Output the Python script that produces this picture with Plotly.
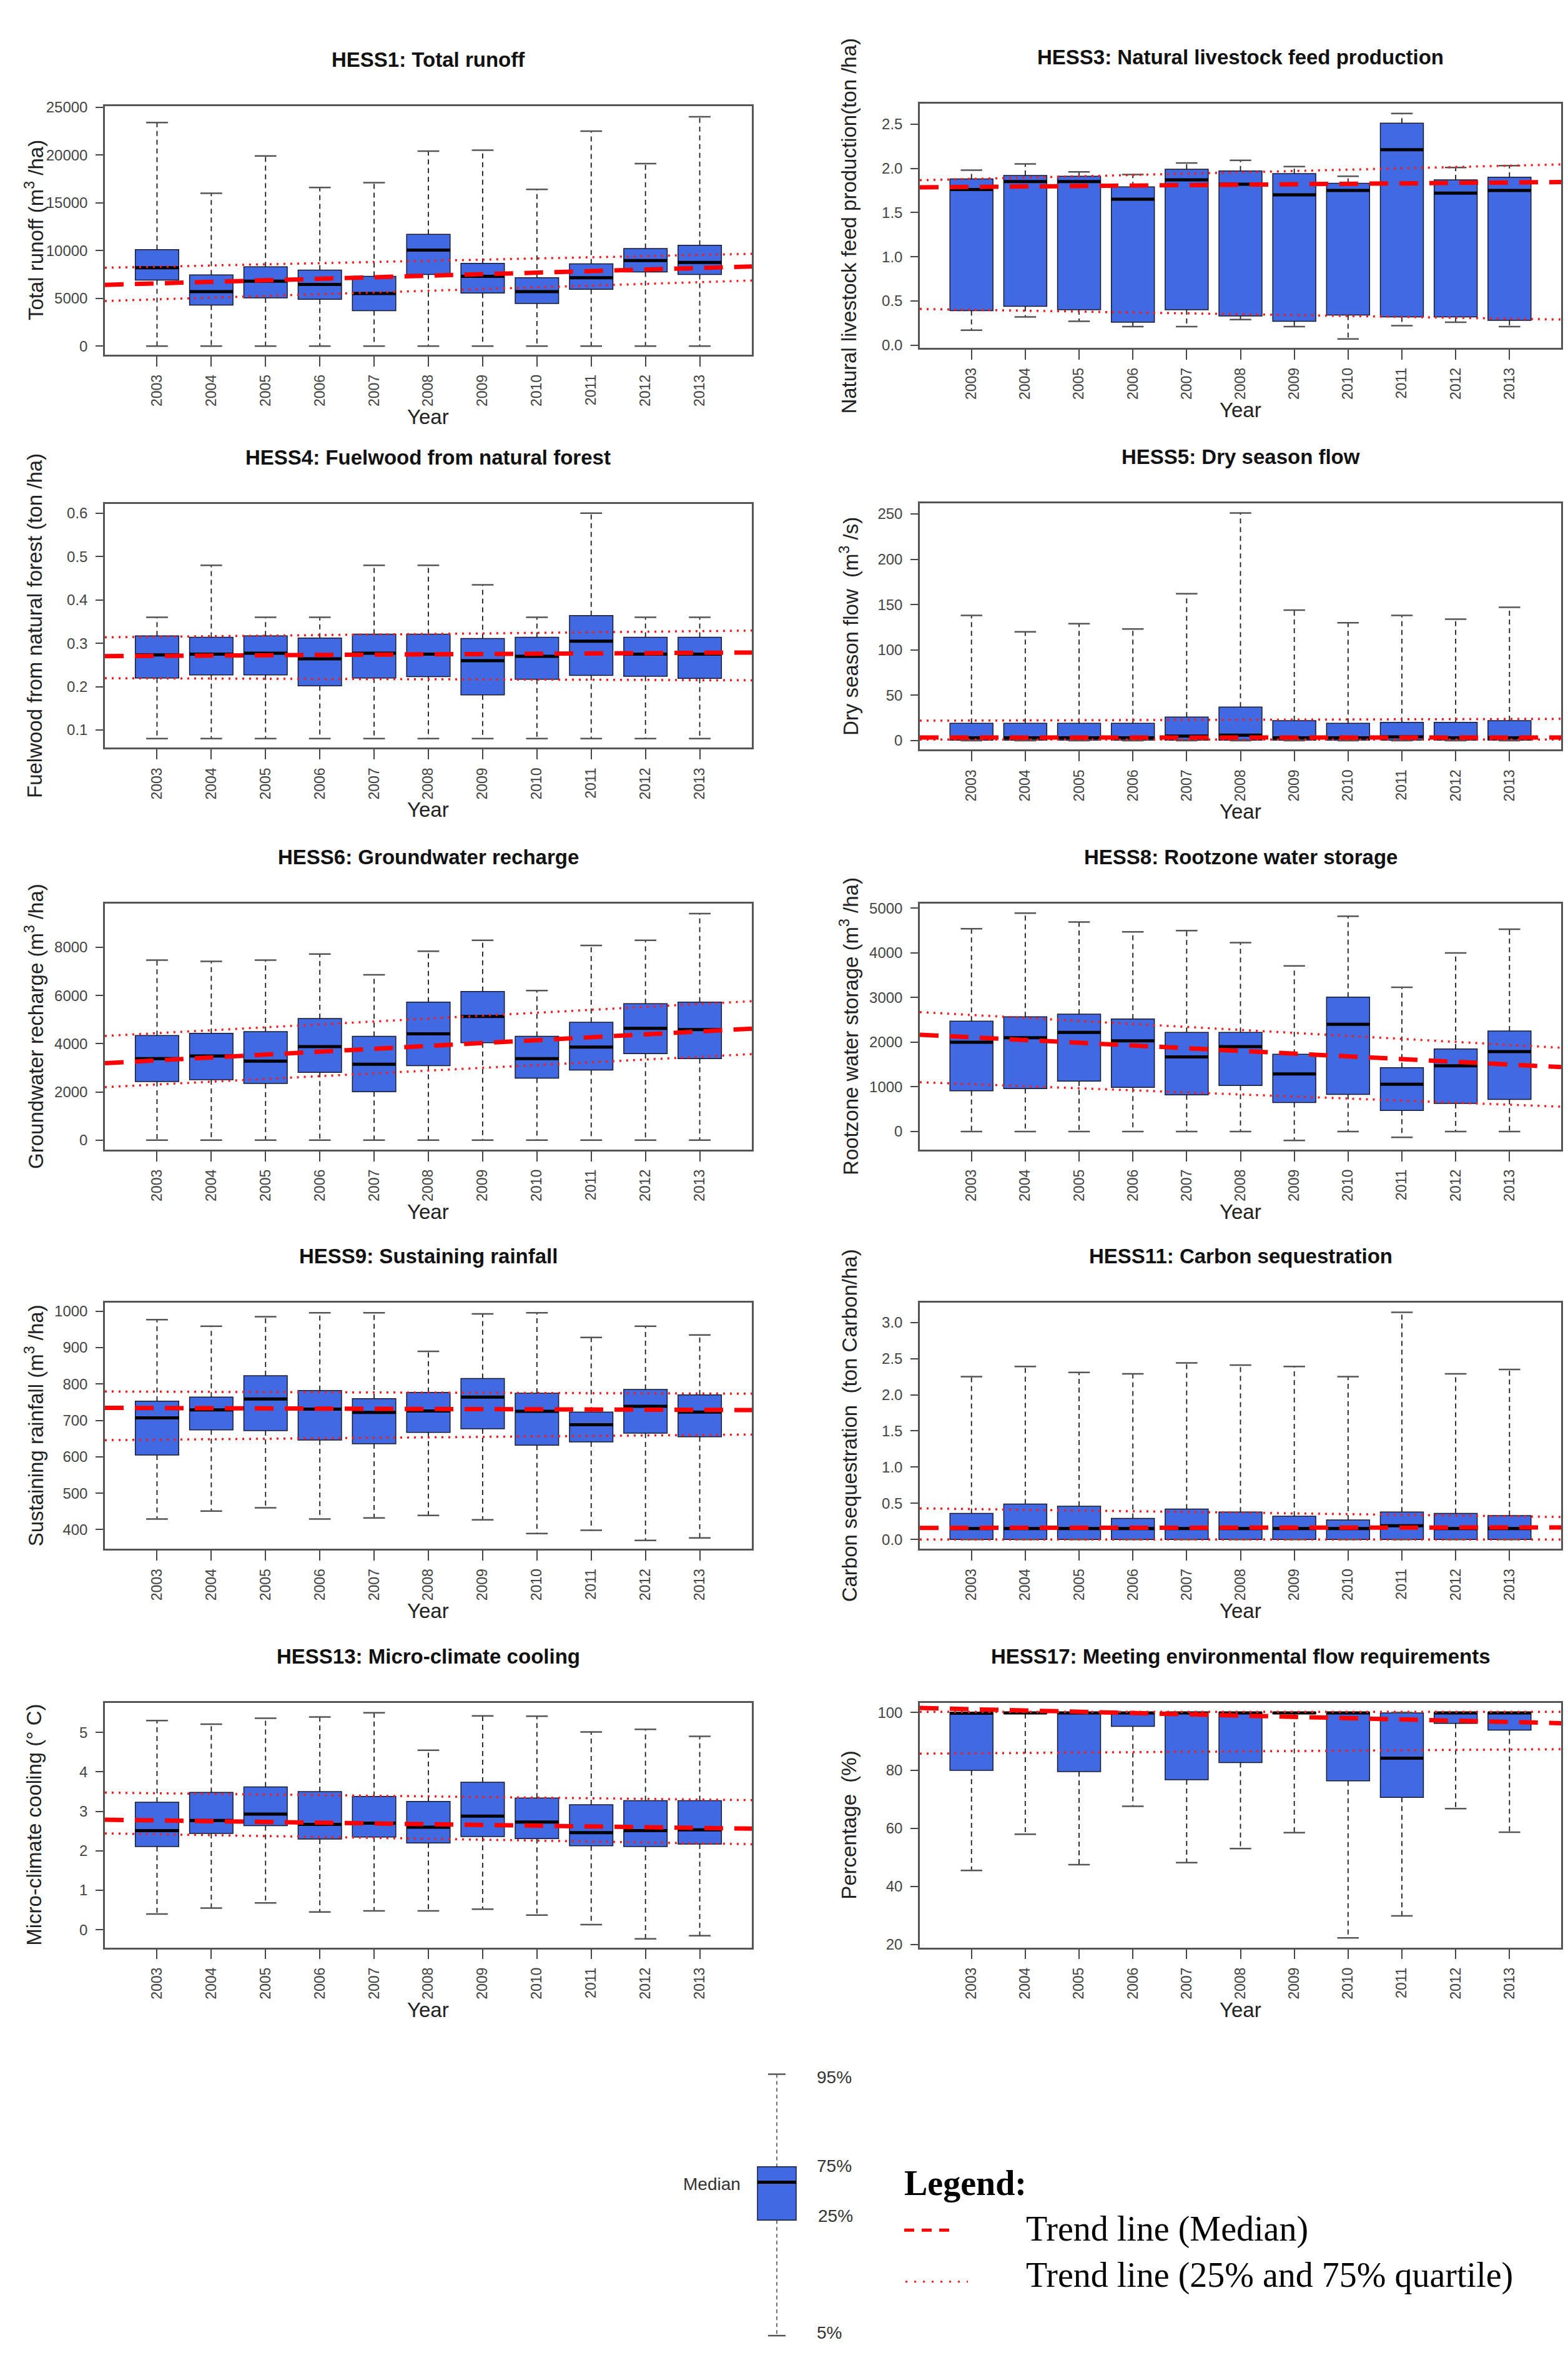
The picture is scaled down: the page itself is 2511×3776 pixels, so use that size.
import plotly.graph_objects as go

W, H = 2511, 3776
years = [2003, 2004, 2005, 2006, 2007, 2008, 2009, 2010, 2011, 2012, 2013]
year_labels = [str(y) for y in years]

# ---------------- data (5%, 25%, median, 75%, 95%) ----------------
HESS1_p95 = [23400, 16000, 19900, 16600, 17100, 20400, 20500, 16400, 22500, 19100, 24000]
HESS1_q3 = [10100, 7450, 8300, 7950, 7300, 11700, 8650, 7150, 8600, 10200, 10550]
HESS1_med = [8200, 5700, 6800, 6450, 5500, 10050, 7300, 5700, 7150, 8950, 8750]
HESS1_q1 = [6900, 4300, 5050, 4900, 3700, 7500, 5550, 4450, 5950, 7750, 7500]
HESS1_p5 = [0, 0, 0, 0, 0, 0, 0, 0, 0, 0, 0]
HESS1_trend_med = [6560, 8170]
HESS1_trend_q3 = [8310, 9540]
HESS1_trend_q1 = [4890, 6690]

HESS3_p95 = [1.98, 2.05, 1.96, 1.93, 2.06, 2.09, 2.02, 1.91, 2.62, 2.01, 2.03]
HESS3_q3 = [1.88, 1.92, 1.91, 1.79, 1.99, 1.97, 1.94, 1.83, 2.51, 1.87, 1.90]
HESS3_med = [1.76, 1.85, 1.85, 1.65, 1.87, 1.82, 1.70, 1.75, 2.21, 1.72, 1.75]
HESS3_q1 = [0.39, 0.44, 0.40, 0.26, 0.40, 0.33, 0.27, 0.34, 0.32, 0.32, 0.28]
HESS3_p5 = [0.17, 0.32, 0.27, 0.21, 0.21, 0.29, 0.21, 0.07, 0.22, 0.26, 0.21]
HESS3_trend_med = [1.79, 1.84]
HESS3_trend_q3 = [1.88, 2.03]
HESS3_trend_q1 = [0.40, 0.30]

HESS4_p95 = [0.36, 0.48, 0.36, 0.36, 0.48, 0.48, 0.435, 0.36, 0.60, 0.36, 0.36]
HESS4_q3 = [0.317, 0.314, 0.317, 0.312, 0.321, 0.321, 0.311, 0.314, 0.364, 0.314, 0.314]
HESS4_med = [0.273, 0.275, 0.277, 0.264, 0.277, 0.275, 0.260, 0.270, 0.305, 0.275, 0.275]
HESS4_q1 = [0.220, 0.227, 0.227, 0.202, 0.220, 0.223, 0.181, 0.217, 0.226, 0.224, 0.219]
HESS4_p5 = [0.08, 0.08, 0.08, 0.08, 0.08, 0.08, 0.08, 0.08, 0.08, 0.08, 0.08]
HESS4_trend_med = [0.271, 0.278]
HESS4_trend_q3 = [0.315, 0.328]
HESS4_trend_q1 = [0.219, 0.215]

HESS5_p95 = [138, 120, 129, 123, 162, 251, 144, 130, 138, 134, 147]
HESS5_q3 = [19, 19, 19, 19, 26, 37, 22, 19, 20, 20, 22]
HESS5_med = [3, 3, 3, 3, 5, 6, 3, 3, 4, 3, 3]
HESS5_q1 = [0.5, 0.5, 0.5, 0.5, 0.5, 0.5, 0.5, 0.5, 0.5, 0.5, 0.5]
HESS5_p5 = [0, 0, 0, 0, 0, 0, 0, 0, 0, 0, 0]
HESS5_trend_med = [3.4, 3.4]
HESS5_trend_q3 = [22.1, 23.8]
HESS5_trend_q1 = [1.2, 1.2]

HESS6_p95 = [7470, 7420, 7470, 7720, 6860, 7840, 8290, 6210, 8080, 8290, 9400]
HESS6_q3 = [4340, 4430, 4500, 5050, 4310, 5730, 6170, 4310, 4890, 5660, 5730]
HESS6_med = [3380, 3490, 3280, 3880, 3150, 4410, 5130, 3380, 3860, 4640, 4590]
HESS6_q1 = [2430, 2510, 2350, 2810, 2010, 3090, 4040, 2570, 2910, 3590, 3380]
HESS6_p5 = [0, 0, 0, 0, 0, 0, 0, 0, 0, 0, 0]
HESS6_trend_med = [3310, 4510]
HESS6_trend_q3 = [4440, 5650]
HESS6_trend_q1 = [2310, 3460]

HESS8_p95 = [4540, 4890, 4690, 4470, 4500, 4230, 3710, 4820, 3230, 4000, 4530]
HESS8_q3 = [2470, 2570, 2630, 2520, 2220, 2220, 1730, 3010, 1430, 1850, 2250]
HESS8_med = [2000, 2100, 2220, 2030, 1670, 1900, 1290, 2400, 1060, 1470, 1790]
HESS8_q1 = [910, 960, 1130, 990, 820, 1030, 650, 830, 470, 630, 720]
HESS8_p5 = [0, 0, 0, 0, 0, 0, -200, 0, -130, 0, 0]
HESS8_trend_med = [2110, 1500]
HESS8_trend_q3 = [2610, 1940]
HESS8_trend_q1 = [1060, 600]

HESS9_p95 = [977, 959, 985, 996, 996, 890, 993, 996, 928, 959, 935]
HESS9_q3 = [753, 764, 823, 782, 760, 777, 815, 775, 723, 785, 770]
HESS9_med = [707, 729, 759, 731, 722, 726, 764, 725, 688, 739, 723]
HESS9_q1 = [605, 674, 672, 646, 636, 667, 677, 632, 641, 665, 655]
HESS9_p5 = [429, 451, 460, 429, 432, 439, 427, 389, 398, 370, 377]
HESS9_trend_med = [734, 729]
HESS9_trend_q3 = [779, 774]
HESS9_trend_q1 = [647, 660]

HESS11_p95 = [2.25, 2.39, 2.31, 2.29, 2.44, 2.41, 2.39, 2.25, 3.14, 2.29, 2.35]
HESS11_q3 = [0.36, 0.49, 0.46, 0.29, 0.42, 0.38, 0.32, 0.27, 0.38, 0.36, 0.33]
HESS11_med = [0.15, 0.15, 0.15, 0.15, 0.15, 0.15, 0.15, 0.15, 0.19, 0.15, 0.15]
HESS11_q1 = [0.0, 0.0, 0.0, 0.0, 0.0, 0.0, 0.0, 0.0, 0.0, 0.0, 0.0]
HESS11_p5 = [0.0, 0.0, 0.0, 0.0, 0.0, 0.0, 0.0, 0.0, 0.0, 0.0, 0.0]
HESS11_trend_med = [0.16, 0.165]
HESS11_trend_q3 = [0.42, 0.32]
HESS11_trend_q1 = [0.0, 0.0]

HESS13_p95 = [5.30, 5.21, 5.36, 5.39, 5.50, 4.55, 5.42, 5.41, 5.01, 5.08, 4.90]
HESS13_q3 = [3.23, 3.48, 3.62, 3.50, 3.38, 3.25, 3.74, 3.34, 3.17, 3.27, 3.27]
HESS13_med = [2.51, 2.77, 2.93, 2.67, 2.70, 2.60, 2.88, 2.73, 2.46, 2.51, 2.53]
HESS13_q1 = [2.11, 2.44, 2.64, 2.30, 2.35, 2.20, 2.36, 2.31, 2.13, 2.11, 2.17]
HESS13_p5 = [0.40, 0.55, 0.68, 0.45, 0.48, 0.48, 0.52, 0.37, 0.13, -0.23, -0.15]
HESS13_trend_med = [2.77, 2.58]
HESS13_trend_q3 = [3.46, 3.30]
HESS13_trend_q1 = [2.42, 2.19]

HESS17_p95 = [100, 100, 100, 100, 100, 100, 100, 100, 100, 100, 100]
HESS17_q3 = [100, 100, 100, 100, 100, 100, 100, 100, 99.8, 100, 100]
HESS17_med = [99.7, 99.8, 99.8, 99.8, 99.8, 99.8, 99.8, 99.8, 84.2, 99.8, 99.8]
HESS17_q1 = [80.0, 99.6, 79.6, 95.2, 76.8, 82.7, 99.6, 76.4, 70.7, 96.2, 93.9]
HESS17_p5 = [45.5, 58.0, 47.5, 67.6, 48.2, 53.0, 58.5, 22.2, 29.8, 66.8, 58.7]
HESS17_trend_med = [101.1, 96.7]
HESS17_trend_q3 = [100.2, 100.2]
HESS17_trend_q1 = [85.9, 87.2]

titles = ["HESS1: Total runoff", "HESS3: Natural livestock feed production",
          "HESS4: Fuelwood from natural forest", "HESS5: Dry season flow",
          "HESS6: Groundwater recharge", "HESS8: Rootzone water storage",
          "HESS9: Sustaining rainfall", "HESS11: Carbon sequestration",
          "HESS13: Micro-climate cooling", "HESS17: Meeting environmental flow requirements"]
ytitles = ["Total runoff (m<sup>3</sup> /ha)", "Natural livestock feed production(ton /ha)",
           "Fuelwood from natural forest (ton /ha)", "Dry season flow  (m<sup>3</sup> /s)",
           "Groundwater recharge (m<sup>3</sup> /ha)", "Rootzone water storage (m<sup>3</sup> /ha)",
           "Sustaining rainfall (m<sup>3</sup> /ha)", "Carbon sequestration  (ton Carbon/ha)",
           "Micro-climate cooling (° C)", "Percentage  (%)"]
ytick_vals = [
    [0, 5000, 10000, 15000, 20000, 25000],
    [0.0, 0.5, 1.0, 1.5, 2.0, 2.5],
    [0.1, 0.2, 0.3, 0.4, 0.5, 0.6],
    [0, 50, 100, 150, 200, 250],
    [0, 2000, 4000, 6000, 8000],
    [0, 1000, 2000, 3000, 4000, 5000],
    [400, 500, 600, 700, 800, 900, 1000],
    [0.0, 0.5, 1.0, 1.5, 2.0, 2.5, 3.0],
    [0, 1, 2, 3, 4, 5],
    [20, 40, 60, 80, 100],
]
ytick_text = [
    ["0", "5000", "10000", "15000", "20000", "25000"],
    ["0.0", "0.5", "1.0", "1.5", "2.0", "2.5"],
    ["0.1", "0.2", "0.3", "0.4", "0.5", "0.6"],
    ["0", "50", "100", "150", "200", "250"],
    ["0", "2000", "4000", "6000", "8000"],
    ["0", "1000", "2000", "3000", "4000", "5000"],
    ["400", "500", "600", "700", "800", "900", "1000"],
    ["0.0", "0.5", "1.0", "1.5", "2.0", "2.5", "3.0"],
    ["0", "1", "2", "3", "4", "5"],
    ["20", "40", "60", "80", "100"],
]

data = [
    (HESS1_p5, HESS1_q1, HESS1_med, HESS1_q3, HESS1_p95, HESS1_trend_med, HESS1_trend_q3, HESS1_trend_q1),
    (HESS3_p5, HESS3_q1, HESS3_med, HESS3_q3, HESS3_p95, HESS3_trend_med, HESS3_trend_q3, HESS3_trend_q1),
    (HESS4_p5, HESS4_q1, HESS4_med, HESS4_q3, HESS4_p95, HESS4_trend_med, HESS4_trend_q3, HESS4_trend_q1),
    (HESS5_p5, HESS5_q1, HESS5_med, HESS5_q3, HESS5_p95, HESS5_trend_med, HESS5_trend_q3, HESS5_trend_q1),
    (HESS6_p5, HESS6_q1, HESS6_med, HESS6_q3, HESS6_p95, HESS6_trend_med, HESS6_trend_q3, HESS6_trend_q1),
    (HESS8_p5, HESS8_q1, HESS8_med, HESS8_q3, HESS8_p95, HESS8_trend_med, HESS8_trend_q3, HESS8_trend_q1),
    (HESS9_p5, HESS9_q1, HESS9_med, HESS9_q3, HESS9_p95, HESS9_trend_med, HESS9_trend_q3, HESS9_trend_q1),
    (HESS11_p5, HESS11_q1, HESS11_med, HESS11_q3, HESS11_p95, HESS11_trend_med, HESS11_trend_q3, HESS11_trend_q1),
    (HESS13_p5, HESS13_q1, HESS13_med, HESS13_q3, HESS13_p95, HESS13_trend_med, HESS13_trend_q3, HESS13_trend_q1),
    (HESS17_p5, HESS17_q1, HESS17_med, HESS17_q3, HESS17_p95, HESS17_trend_med, HESS17_trend_q3, HESS17_trend_q1),
]

# ---------------- layout geometry (pixels) ----------------
yranges = [[-900, 25100], [-0.03, 2.73], [0.059, 0.622], [-10, 262], [-390, 9815],
           [-404, 5104], [347, 1023], [-0.13, 3.27], [-0.45, 5.75], [18.9, 103.3]]
col_x = [(160, 1196), (1465, 2492)]
panel_y = [(151, 551), (147, 540), (791, 1184), (790, 1187), (1435, 1831), (1435, 1831),
           (2078, 2474), (2078, 2474), (2722, 3116), (2722, 3116)]
XR = [2002.04, 2013.96]

FONT = "Liberation Sans, Arial, sans-serif"
SERIF = "Liberation Serif, DejaVu Serif, serif"
BOXBLUE = "#4169E1"


def px(x):
    return x / W


def py(y):
    return 1 - y / H


fig = go.Figure()
layout = dict(width=W, height=H, autosize=False, margin=dict(l=0, r=0, t=0, b=0),
              paper_bgcolor="white", plot_bgcolor="white", showlegend=False,
              barmode="overlay", font=dict(family=FONT, color="#222"))
annotations = []
shapes = []

for i in range(10):
    p5, q1, med, q3, p95, tm, t3, t1 = data[i]
    k = "" if i == 0 else str(i + 1)
    xa, ya = "x" + k, "y" + k
    x0p, x1p = col_x[i % 2]
    y0p, y1p = panel_y[i]

    # whiskers (dashed)
    wx, wy = [], []
    for j, yr in enumerate(years):
        wx += [yr, yr, None, yr, yr, None]
        wy += [q3[j], p95[j], None, q1[j], p5[j], None]
    fig.add_trace(go.Scatter(x=wx, y=wy, mode="lines", xaxis=xa, yaxis=ya,
                             line=dict(color="#1a1a1a", width=1.8, dash="8px,6px"), hoverinfo="skip"))
    # caps
    cx, cy = [], []
    for j, yr in enumerate(years):
        cx += [yr - 0.2, yr + 0.2, None, yr - 0.2, yr + 0.2, None]
        cy += [p95[j], p95[j], None, p5[j], p5[j], None]
    fig.add_trace(go.Scatter(x=cx, y=cy, mode="lines", xaxis=xa, yaxis=ya,
                             line=dict(color="#555", width=2.5), hoverinfo="skip"))
    # boxes
    fig.add_trace(go.Bar(x=years, y=[b - a for a, b in zip(q1, q3)], base=q1, width=0.8,
                         xaxis=xa, yaxis=ya,
                         marker=dict(color=BOXBLUE, line=dict(color="#1a1a2e", width=1.5))))
    # medians
    mx, my = [], []
    for j, yr in enumerate(years):
        mx += [yr - 0.4, yr + 0.4, None]
        my += [med[j], med[j], None]
    fig.add_trace(go.Scatter(x=mx, y=my, mode="lines", xaxis=xa, yaxis=ya,
                             line=dict(color="black", width=5), hoverinfo="skip"))

    # trend lines (linear, extended to the frame)
    def trend(v):
        s = (v[1] - v[0]) / (years[-1] - years[0])
        return [v[0] + s * (XR[0] - years[0]), v[0] + s * (XR[1] - years[0])]
    fig.add_trace(go.Scatter(x=XR, y=trend(t3), mode="lines", xaxis=xa, yaxis=ya,
                             line=dict(color="#ff1a1a", width=3.5, dash="3px,8px"), hoverinfo="skip"))
    fig.add_trace(go.Scatter(x=XR, y=trend(t1), mode="lines", xaxis=xa, yaxis=ya,
                             line=dict(color="#ff1a1a", width=3.5, dash="3px,8px"), hoverinfo="skip"))
    fig.add_trace(go.Scatter(x=XR, y=trend(tm), mode="lines", xaxis=xa, yaxis=ya,
                             line=dict(color="#ff0000", width=7, dash="30px,18px"), hoverinfo="skip"))

    layout["xaxis" + k] = dict(domain=[px(x0p), px(x1p)], anchor=ya, range=XR,
                               tickmode="array", tickvals=years, ticktext=year_labels,
                               tickangle=-90, ticks="outside", ticklen=16, tickwidth=2,
                               tickcolor="#444", showline=True, mirror=True, linecolor="#555",
                               linewidth=2.5, showgrid=False, zeroline=False,
                               tickfont=dict(family=FONT, size=23, color="#444"),
                               ticklabelstandoff=4, fixedrange=True)
    layout["yaxis" + k] = dict(domain=[py(y1p), py(y0p)], anchor=xa, range=yranges[i],
                               tickmode="array", tickvals=ytick_vals[i], ticktext=ytick_text[i],
                               ticks="outside", ticklen=12, tickwidth=2, tickcolor="#444",
                               showline=True, mirror=True, linecolor="#555", linewidth=2.5,
                               showgrid=False, zeroline=False,
                               tickfont=dict(family=FONT, size=24, color="#444"),
                               ticklabelstandoff=8, fixedrange=True)
    cxp = (x0p + x1p) / 2
    annotations.append(dict(text="<b>" + titles[i] + "</b>", x=px(cxp), y=py(y0p - 75),
                            xref="paper", yref="paper", showarrow=False, xanchor="center",
                            yanchor="middle", font=dict(family=FONT, size=33, color="#111")))
    annotations.append(dict(text="Year", x=px(cxp), y=py(y1p + 100), xref="paper", yref="paper",
                            showarrow=False, xanchor="center", yanchor="middle",
                            font=dict(family=FONT, size=33, color="#222")))
    annotations.append(dict(text=ytitles[i], x=px(x0p - 113), y=py((y0p + y1p) / 2),
                            xref="paper", yref="paper", showarrow=False, textangle=-90,
                            xanchor="center", yanchor="middle",
                            font=dict(family=FONT, size=33, color="#222")))

# ---------------- explanatory legend (bottom) ----------------
shapes += [
    dict(type="line", xref="paper", yref="paper", x0=px(1236), x1=px(1236), y0=py(3320), y1=py(3469),
         line=dict(color="#444", width=1.5, dash="6px,5px")),
    dict(type="line", xref="paper", yref="paper", x0=px(1236), x1=px(1236), y0=py(3555), y1=py(3741),
         line=dict(color="#444", width=1.5, dash="6px,5px")),
    dict(type="line", xref="paper", yref="paper", x0=px(1222), x1=px(1250), y0=py(3320), y1=py(3320),
         line=dict(color="#555", width=2.5)),
    dict(type="line", xref="paper", yref="paper", x0=px(1222), x1=px(1250), y0=py(3741), y1=py(3741),
         line=dict(color="#555", width=2.5)),
    dict(type="rect", xref="paper", yref="paper", x0=px(1205), x1=px(1267), y0=py(3555), y1=py(3469),
         fillcolor=BOXBLUE, line=dict(color="#1a1a2e", width=1.5)),
    dict(type="line", xref="paper", yref="paper", x0=px(1205), x1=px(1267), y0=py(3494), y1=py(3494),
         line=dict(color="black", width=5)),
    dict(type="line", xref="paper", yref="paper", x0=px(1440), x1=px(1520), y0=py(3571), y1=py(3571),
         line=dict(color="#ff0000", width=5, dash="16px,12px")),
    dict(type="line", xref="paper", yref="paper", x0=px(1442), x1=px(1542), y0=py(3654), y1=py(3654),
         line=dict(color="#ff1a1a", width=3, dash="3px,11px")),
]
for txt, xx, yy in [("95%", 1298, 3325), ("75%", 1298, 3468), ("25%", 1300, 3548), ("5%", 1298, 3736)]:
    annotations.append(dict(text=txt, x=px(xx), y=py(yy), xref="paper", yref="paper",
                            showarrow=False, xanchor="left", yanchor="middle",
                            font=dict(family=FONT, size=28, color="#333")))
annotations.append(dict(text="Median", x=px(1180), y=py(3497), xref="paper", yref="paper",
                        showarrow=False, xanchor="right", yanchor="middle",
                        font=dict(family=FONT, size=28, color="#333")))
annotations.append(dict(text="<b>Legend:</b>", x=px(1438), y=py(3495), xref="paper", yref="paper",
                        showarrow=False, xanchor="left", yanchor="middle",
                        font=dict(family=SERIF, size=56, color="black")))
annotations.append(dict(text="Trend line (Median)", x=px(1633), y=py(3569), xref="paper", yref="paper",
                        showarrow=False, xanchor="left", yanchor="middle",
                        font=dict(family=SERIF, size=56, color="black")))
annotations.append(dict(text="Trend line (25% and 75% quartile)", x=px(1633), y=py(3644),
                        xref="paper", yref="paper", showarrow=False, xanchor="left", yanchor="middle",
                        font=dict(family=SERIF, size=56, color="black")))

layout["annotations"] = annotations
layout["shapes"] = shapes
fig.update_layout(**layout)
fig.write_html("out.html")
